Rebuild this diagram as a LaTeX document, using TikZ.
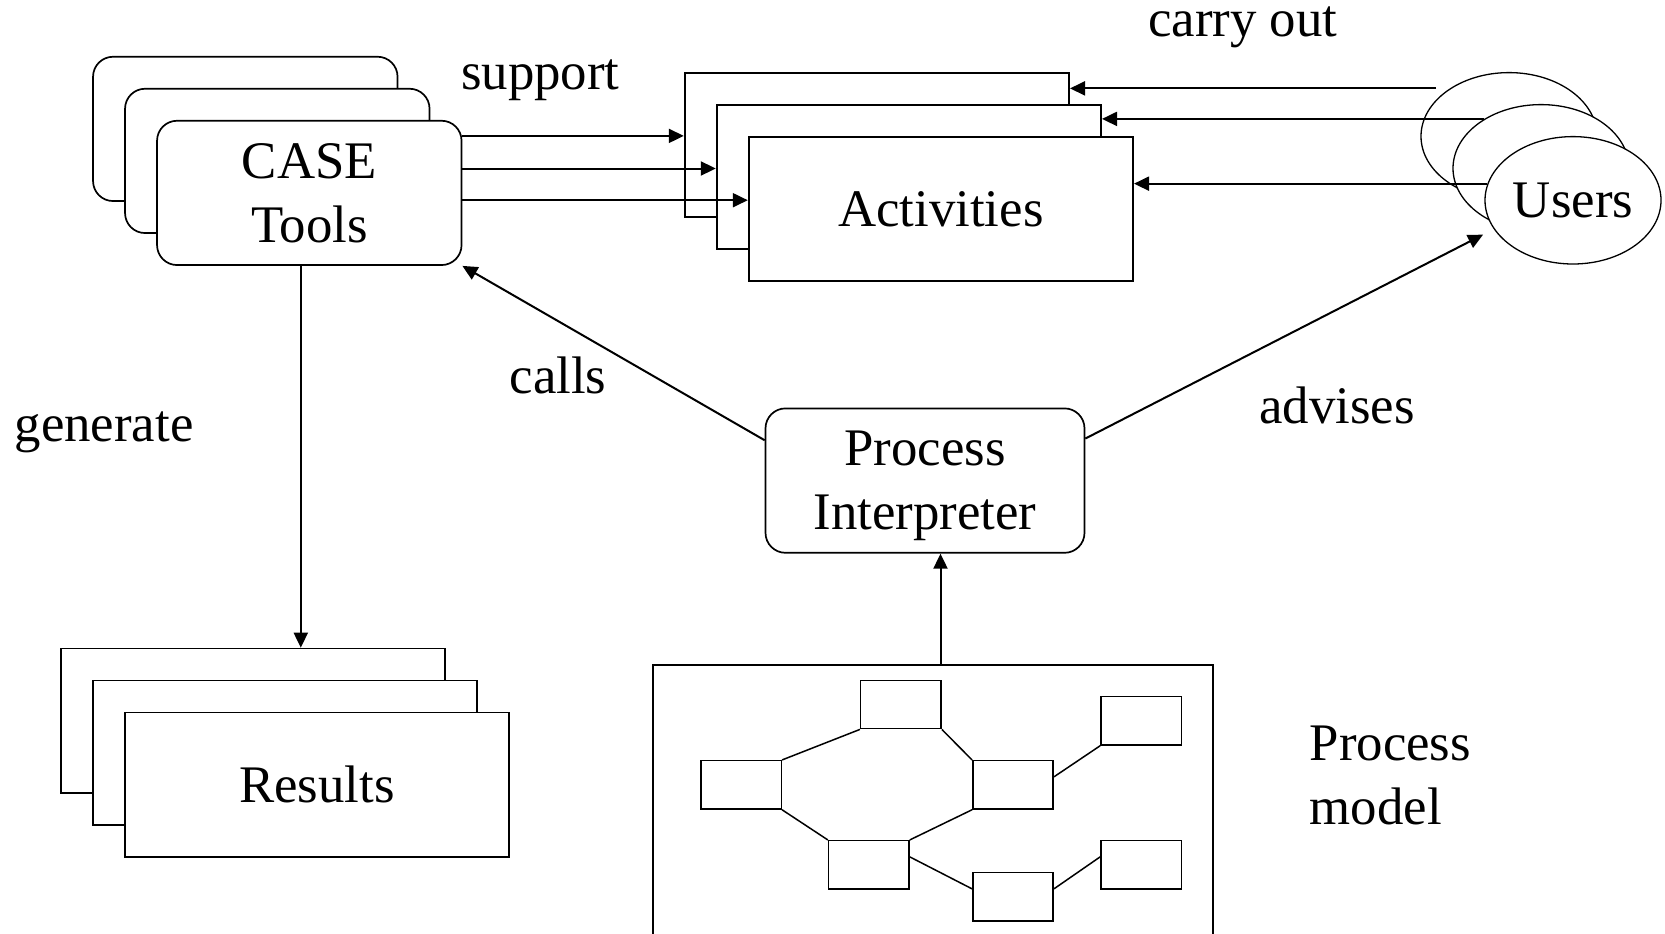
\documentclass[tikz,border=0pt]{standalone}
\usepackage{fontspec}
\setmainfont{Liberation Serif}
\usetikzlibrary{arrows.meta,shapes.geometric,calc}
\tikzset{
  txt/.style={font=\fontsize{52.8}{64}\selectfont},
  rstack/.style={draw, line width=1.7pt, fill=white, rounded corners=20pt, minimum width=304.5pt, minimum height=144.3pt, inner sep=0pt, align=center, txt},
  sstack/.style={draw, line width=1.7pt, fill=white, minimum width=384.5pt, minimum height=144.3pt, inner sep=0pt, align=center, txt},
  user/.style={ellipse, draw, line width=1.3pt, fill=white, minimum width=176pt, minimum height=127.4pt, inner sep=0pt, txt},
  pibox/.style={draw, line width=1.7pt, fill=white, rounded corners=20pt, minimum width=319pt, minimum height=144.4pt, inner sep=0pt, align=center, txt},
  mini/.style={draw, line width=1.5pt, minimum width=80.4pt, minimum height=48.3pt, inner sep=0pt},
  link/.style={line width=1.5pt},
  arr/.style={line width=2pt, -{Triangle[length=15pt,width=14pt]}},
  lbl/.style={inner sep=0pt, anchor=base west, txt},
}
\begin{document}
\begin{tikzpicture}[x=1pt,y=-1pt]
\path[use as bounding box, fill=white] (0,0) rectangle (1665,934);
\clip (0,0) rectangle (1665,934);

% CASE Tools stack
\node[rstack] (caseb) at (245.3,128.9) {};
\node[rstack] (casem) at (277.3,160.9) {};
\node[rstack] (casef) at (309.3,192.9) {CASE\\Tools};

% Activities stack
\node[sstack] (actb) at (876.9,144.9) {};
\node[sstack] (actm) at (908.9,176.9) {};
\node[sstack] (actf) at (940.9,208.9) {Activities};

% Users stack
\node[user] (usb) at (1509,136.3) {};
\node[user] (usm) at (1541,168.3) {};
\node[user] (usf) at (1573,200.3) {Users};

% Results stack
\node[sstack] (resb) at (252.9,720.7) {};
\node[sstack] (resm) at (284.9,752.7) {};
\node[sstack] (resf) at (316.9,784.7) {Results};

% Process interpreter
\node[pibox] (pi) at (925,480.6) {Process\\\smash{Interpreter}};

% Process model
\node[draw, line width=1.7pt, minimum width=560.3pt, minimum height=300pt, inner sep=0pt] (model) at (932.85,814.7) {};
\node[mini] (ma) at (900.9,704.5) {};
\node[mini] (mb) at (741.1,784.85) {};
\node[mini] (mc) at (1013,784.85) {};
\node[mini] (md) at (1141.1,720.85) {};
\node[mini] (me) at (868.8,864.85) {};
\node[mini] (mf) at (1013,896.85) {};
\node[mini] (mg) at (1141.1,864.85) {};
\draw[link] (mb.north east) -- (ma.south west);
\draw[link] (ma.south east) -- (mc.north west);
\draw[link] (mb.south east) -- (me.north west);
\draw[link] (me.north east) -- (mc.south west);
\draw[link] ([yshift=8pt]mc.east) -- (md.south west);
\draw[link] ([yshift=8pt]me.east) -- ([yshift=8pt]mf.west);
\draw[link] ([yshift=8pt]mf.east) -- ([yshift=8pt]mg.west);

% labels
\node[lbl] (carry) at (1148,36.7) {carry out};
\node[lbl] (support) at (461,89.3) {support};
\node[lbl] (calls) at (509.5,393.3) {calls};
\node[lbl] (generate) at (14.5,441.7) {generate};
\node[lbl] (advises) at (1259,423.3) {advises};
\node[txt, inner sep=0pt, anchor=north west, align=left] (pmodel) at (1309.5,726) {Process\\model};

% support arrows
\coordinate (s1) at ([yshift=-16pt]casef.north east);
\coordinate (s2) at ([yshift=-48.6pt]casef.north east);
\coordinate (s3) at ([yshift=-80.3pt]casef.north east);
\draw[arr] (s1) -- (s1 -| actb.west);
\draw[arr] (s2) -- (s2 -| actm.west);
\draw[arr] (s3) -- (s3 -| actf.west);

% carry out arrows
\draw[arr, shorten <=13.6pt] (usb.141.65) -- (usb.141.65 -| actb.east);
\draw[arr] (usm.139.9) -- (usm.139.9 -| actm.east);
\draw[arr] (usf.169.9) -- (usf.169.9 -| actf.east);

% generate
\coordinate (g) at (300.8,0);
\draw[arr] (g |- casef.south) -- (g |- resb.north);

% calls and advises
\draw[arr] ([yshift=-32.7pt]pi.north west) -- (casef.south east);
\draw[arr, shorten >=12pt] ([yshift=-31pt]pi.north east) -- (usf.200.2);

% model to interpreter
\coordinate (m) at (940.5,0);
\draw[arr] (m |- model.north) -- (m |- pi.south);
\end{tikzpicture}
\end{document}
